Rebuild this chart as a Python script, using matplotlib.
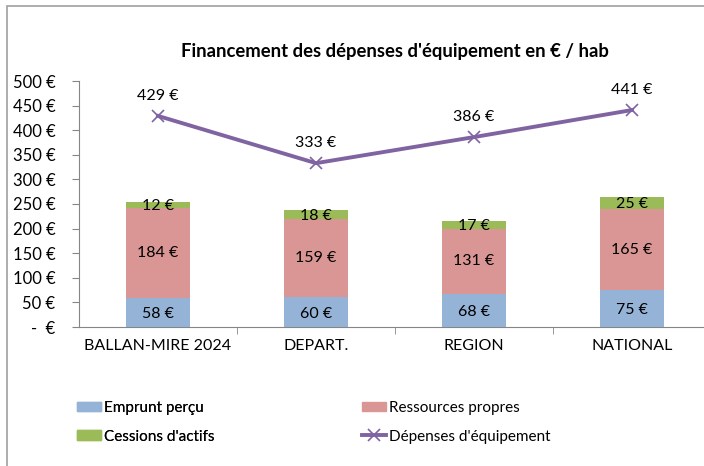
import matplotlib
matplotlib.use("Agg")
import matplotlib.pyplot as plt
import matplotlib.ticker as mticker
from matplotlib.patches import Rectangle, Patch
from matplotlib.lines import Line2D
import numpy as np

plt.rcParams["font.family"] = ["Lato", "DejaVu Sans"]

# ── Données ──────────────────────────────────────────────────────────────────
CATEGORIES  = ["BALLAN-MIRE 2024", "DEPART.", "REGION", "NATIONAL"]
EMPRUNT     = [58, 60, 68, 75]
RESSOURCES  = [184, 159, 131, 165]
CESSIONS    = [12, 18, 17, 25]
DEPENSES    = [429, 333, 386, 441]
Y_TICKS     = [0, 50, 100, 150, 200, 250, 300, 350, 400, 450, 500]

C_BLUE   = "#95B3D7"
C_RED    = "#DA9694"
C_GREEN  = "#9BBB59"
C_PURPLE = "#8064A2"

def euro(v, pos=None):
    return "-  €" if v == 0 else f"{v:.0f} €"

fig = plt.figure(figsize=(7.04, 4.66), dpi=100)
ax = fig.add_axes([79 / 704, 1 - 327 / 466, 632 / 704, 246 / 466])

x = np.arange(len(CATEGORIES))
w = 0.4
emp = np.array(EMPRUNT)
res = np.array(RESSOURCES)
ces = np.array(CESSIONS)

ax.bar(x, emp, w, color=C_BLUE)
ax.bar(x, res, w, bottom=emp, color=C_RED)
ax.bar(x, ces, w, bottom=emp + res, color=C_GREEN)
ax.plot(x, DEPENSES, color=C_PURPLE, lw=2.8, marker="x", ms=9, mew=1.2)

fs = 11.5
for i in range(len(x)):
    ax.text(x[i], emp[i] / 2 - 3, euro(emp[i]), ha="center", va="center", fontsize=fs)
    ax.text(x[i], emp[i] + res[i] / 2, euro(res[i]), ha="center", va="center", fontsize=fs)
    ax.text(x[i], emp[i] + res[i] + ces[i] / 2 - 3, euro(ces[i]), ha="center", va="center", fontsize=fs)
    ax.text(x[i], DEPENSES[i] + 40, euro(DEPENSES[i]), ha="center", va="center", fontsize=fs)

ax.set_xlim(-0.5, len(x) - 0.5)
ax.set_ylim(0, 500)
ax.set_yticks(Y_TICKS)
ax.yaxis.set_major_formatter(mticker.FuncFormatter(euro))
ax.set_xticks(x)
ax.set_xticklabels(CATEGORIES)
ax.set_xticks(np.arange(0.5, len(x) - 0.5, 1), minor=True)
ax.tick_params(axis="x", which="major", length=0, pad=9, labelsize=fs)
ax.tick_params(axis="x", which="minor", length=5, color="#868686")
ax.tick_params(axis="y", length=5, color="#868686", labelsize=12, pad=12)
for s in ["top", "right"]:
    ax.spines[s].set_visible(False)
for s in ["left", "bottom"]:
    ax.spines[s].set_color("#868686")

fig.text(395 / 704, 1 - 52 / 466, "Financement des dépenses d'équipement en € / hab",
         ha="center", va="center", fontsize=13.3, fontweight="bold")

# légende en deux colonnes placées séparément
leg_kw = dict(frameon=False, fontsize=11, loc="upper left", borderpad=0, borderaxespad=0,
              handlelength=1.6, handleheight=0.6, handletextpad=0.15, labelspacing=0.95)
h1 = [Patch(color=C_BLUE), Patch(color=C_GREEN)]
h2 = [Patch(color=C_RED), Line2D([], [], color=C_PURPLE, lw=2.8, marker="x", ms=9, mew=1.2)]
leg1 = fig.legend(h1, ["Emprunt perçu", "Cessions d'actifs"],
                  bbox_to_anchor=(77 / 704, 1 - 401 / 466), **leg_kw)
fig.add_artist(leg1)
fig.legend(h2, ["Ressources propres", "Dépenses d'équipement"],
           bbox_to_anchor=(362 / 704, 1 - 401 / 466), **leg_kw)

fig.patches.append(Rectangle((7 / 704, -0.1), 1.2, 1 - 6 / 466 + 0.1, transform=fig.transFigure,
                             fill=False, edgecolor="#A0A0A0", lw=1.2))

fig.savefig("out.png", dpi=100)
